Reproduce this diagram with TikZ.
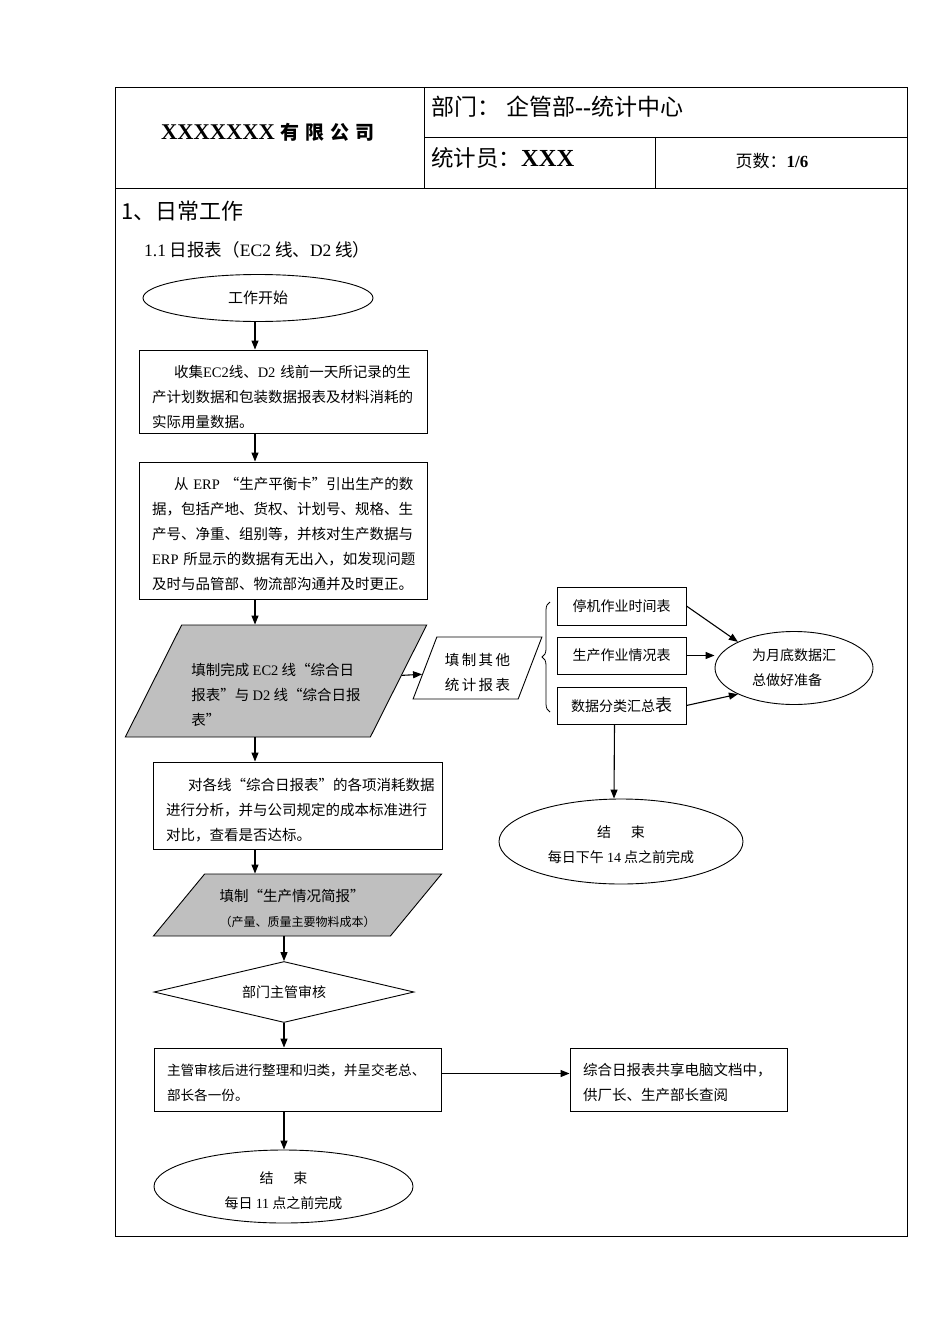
\documentclass[tikz,border=0pt]{standalone}
\usepackage{fontspec}
\setmainfont{Noto Sans CJK SC}
\newfontfamily\enfont{Liberation Serif}
\newcommand{\en}[1]{{\enfont #1}}
\newcommand{\lift}[1]{\rule{0pt}{#1}}
\usetikzlibrary{shapes.geometric, arrows.meta, decorations.pathreplacing, calc}

\tikzset{
  txt/.style={font=\fontsize{14.5}{25}\selectfont, inner sep=0pt},
  box/.style={txt, draw, line width=0.9pt, align=left, inner xsep=13pt},
  term/.style={txt, draw, ellipse, line width=0.9pt, align=center, font=\fontsize{14}{25}\selectfont},
  datain/.style={txt, draw, trapezium, trapezium stretches=true, fill=gray!50, line width=0.9pt, align=left},
  arr/.style={-{Triangle[length=9pt,width=7pt]}, line width=1.1pt},
}

\begin{document}
\begin{tikzpicture}[x=1pt, y=-1pt]

\useasboundingbox (0,0) rectangle (950,1344);

\draw[line width=0.8pt] (115,87) rectangle (907,1236);
\draw[line width=0.8pt] (115,188) -- (907,188);
\draw[line width=0.8pt] (424,87) -- (424,188);
\draw[line width=0.8pt] (424,137) -- (907,137);
\draw[line width=0.8pt] (655,137) -- (655,188);

\node[txt] (company) at (268,132) {\en{\bfseries\fontsize{22.5}{22}\selectfont XXXXXXX}\hspace{6pt}{\bfseries\fontsize{19}{19}\selectfont 有\hspace{6pt}限\hspace{6pt}公\hspace{6pt}司}};
\node[txt, anchor=west, font=\fontsize{23}{23}\selectfont] (dept) at (431,107) {部门：\hspace{6pt}企管部\en{\bfseries\fontsize{24}{24}\selectfont -{}-}统计中心};
\node[txt, anchor=west, font=\fontsize{22.5}{23}\selectfont] (clerk) at (431,158) {统计员：\en{\bfseries\fontsize{24.5}{24}\selectfont XXX}};
\node[txt, font=\fontsize{17}{17}\selectfont] (page) at (772,161) {页数：\en{\bfseries 1/6}};

\node[txt, anchor=west, font=\fontsize{22}{22}\selectfont] (sect) at (121,211) {1、日常工作};
\node[txt, anchor=west, font=\fontsize{17.5}{17.5}\selectfont] (subsect) at (144,250) {\en{1.1}~日报表（\en{EC2}~线、\en{D2}~线）};

\node[term, minimum width=230pt, minimum height=47pt, font=\fontsize{15}{25}\selectfont] (start) at (258,298) {工作开始};

\node[box, text width=262pt, minimum height=83pt] (collect) at (283,391.5) {\lift{24pt}\hspace*{22pt}收集\en{EC2}线、\en{D2}~线前一天所记录的生\\产计划数据和包装数据报表及材料消耗的\\实际用量数据。};

\node[box, text width=262pt, minimum height=137pt] (erp) at (283,530.5) {\lift{20pt}\hspace*{22pt}从~\en{ERP}~“生产平衡卡”引出生产的数\\据，包括产地、货权、计划号、规格、生\\产号、净重、组别等，并核对生产数据与\\\en{ERP}~所显示的数据有无出入，如发现问题\\及时与品管部、物流部沟通并及时更正。};

\node[datain, trapezium left angle=61, trapezium right angle=119, minimum width=302pt, minimum height=112pt] (fill) at (276,681) {\lift{40pt}填制完成~\en{EC2}~线“综合日\\报表”与~\en{D2}~线“综合日报\\表”};

\node[datain, fill=white, trapezium left angle=68, trapezium right angle=112, minimum width=129pt, minimum height=62pt, align=center] (other) at (477.5,668) {\lift{21pt}填\,制\,其\,他\\统\,计\,报\,表};

\draw[decorate, decoration={brace, amplitude=8pt}, line width=0.8pt] (550,712) -- (550,602);

\node[box, minimum width=129pt, minimum height=38pt, inner xsep=0pt, font=\fontsize{14}{25}\selectfont] (stop) at (621.5,606) {停机作业时间表};
\node[box, minimum width=129pt, minimum height=37pt, inner xsep=0pt, font=\fontsize{14}{25}\selectfont] (prod) at (621.5,655.5) {生产作业情况表};
\node[box, minimum width=129pt, minimum height=37pt, inner xsep=0pt, font=\fontsize{14}{25}\selectfont] (sum) at (621.5,705.5) {数据分类汇总{\fontsize{17}{17}\selectfont 表}};

\node[term, minimum width=158pt, minimum height=73pt, align=left] (month) at (794,668) {为月底数据汇\\总做好准备};
\node[term, minimum width=244pt, minimum height=85pt] (end1) at (621,841.5) {\lift{18pt}结\hspace{20pt}束\\每日下午~\en{14}~点之前完成};

\node[box, text width=263pt, minimum height=87pt] (analyse) at (297.5,805.5) {\lift{21pt}\hspace*{22pt}对各线“综合日报表”的各项消耗数据\\进行分析，并与公司规定的成本标准进行\\对比，查看是否达标。};

\node[datain, trapezium left angle=46.4, trapezium right angle=133.6, minimum width=289pt, minimum height=62pt] (brief) at (297.5,905) {\lift{19pt}填制“生产情况简报”\\{\fontsize{12}{12}\selectfont（产量、质量主要物料成本）}};

\node[txt, draw, diamond, aspect=4.26, line width=0.9pt, minimum width=260pt, minimum height=61pt, font=\fontsize{14}{25}\selectfont] (audit) at (284,992) {部门主管审核};

\node[box, text width=261pt, minimum height=63pt, font=\fontsize{13.6}{25}\selectfont] (sort) at (297.5,1079.5) {\lift{19pt}主管审核后进行整理和归类，并呈交老总、\\部长各一份。};
\node[box, text width=191pt, minimum height=63pt] (share) at (678.5,1079.5) {\lift{19pt}综合日报表共享电脑文档中，\\供厂长、生产部长查阅};
\node[term, minimum width=259pt, minimum height=73pt] (end2) at (283.5,1186.5) {\lift{20pt}结\hspace{20pt}束\\每日~\en{11}~点之前完成};

\coordinate (col) at (255,0);
\draw[arr] (start.south -| col) -- (collect.north -| col);
\draw[arr] (collect.south -| col) -- (erp.north -| col);
\draw[arr] (erp.south -| col) -- (fill.north -| col);
\draw[arr] (fill.south -| col) -- (analyse.north -| col);
\draw[arr] (analyse.south -| col) -- (brief.north -| col);
\draw[arr] (brief.south -| audit.north) -- (audit.north);
\draw[arr] (audit.south) -- (sort.north -| audit.south);
\draw[arr] (sort.south -| audit.south) -- (end2.north -| audit.south);
\draw[arr] ([yshift=6pt]sort.east) -- ([yshift=6pt]share.west);

\draw[arr] ($(fill.top right corner)!0.45!(fill.bottom right corner)$) -- ($(other.top left corner)!0.6!(other.bottom left corner)$);
\draw[arr] (stop.east) -- (month.155);
\draw[arr] (prod.east) -- (prod.east -| month.west);
\draw[arr] (sum.east) -- (month.205);
\draw[arr] ([xshift=-7pt]sum.south) -- ([xshift=-7pt]end1.north);

\end{tikzpicture}
\end{document}
